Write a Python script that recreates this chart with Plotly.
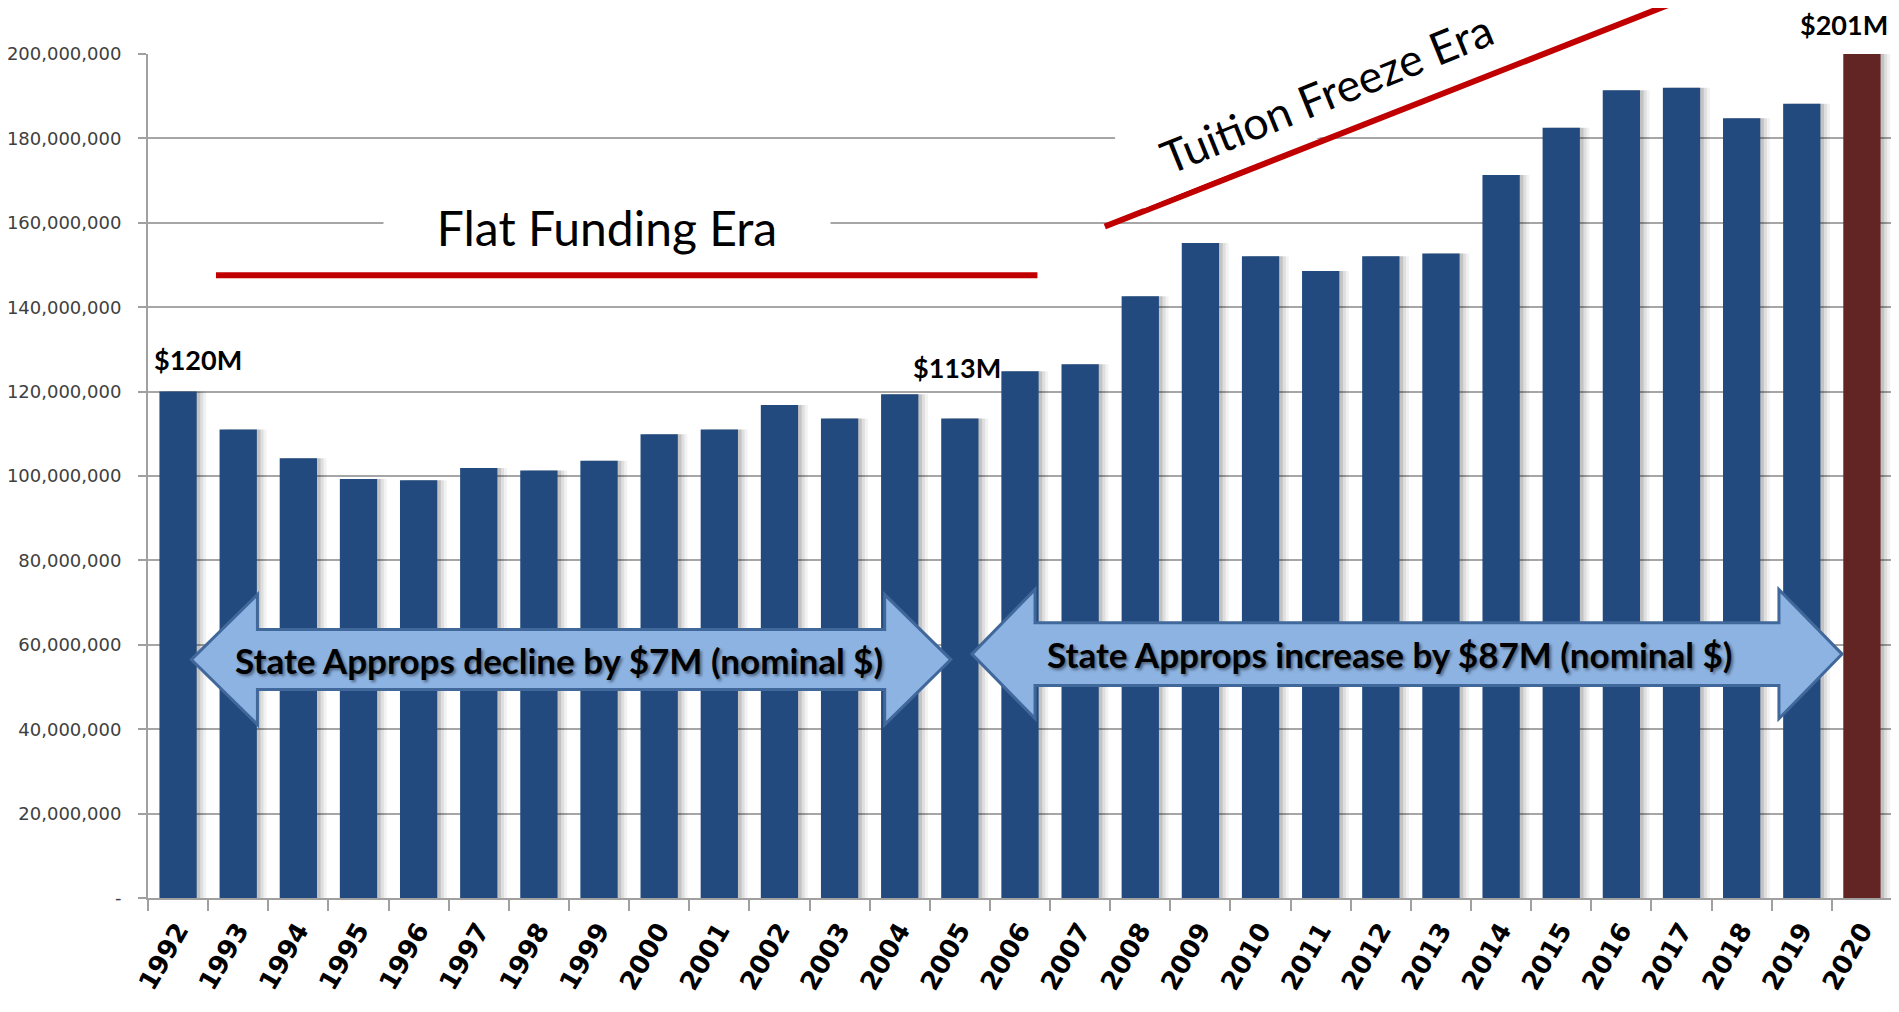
import plotly.graph_objects as go

# state appropriations by fiscal year (dollars)
years = list(range(1992, 2021))
approps = [120.0e6, 111.0e6, 104.2e6, 99.3e6, 99.0e6, 101.9e6, 101.3e6, 103.6e6,
           109.9e6, 111.0e6, 116.8e6, 113.6e6, 119.4e6, 113.6e6, 124.8e6, 126.5e6,
           142.6e6, 155.2e6, 152.1e6, 148.6e6, 152.1e6, 152.7e6, 171.3e6, 182.5e6,
           191.4e6, 192.0e6, 184.8e6, 188.2e6, 201.0e6]
bar_colors = ['#224a7e'] * 28 + ['#632523']

ytick_vals = list(range(0, 200_000_001, 20_000_000))
ytick_text = ['-'] + [f'{v:,}' for v in ytick_vals[1:]]

LABEL_FONT = 'Lato'
BAR_W = 0.62

fig = go.Figure()

# soft shadow to the right of each bar (Excel style)
for off, alpha in [(0.16, 0.05), (0.11, 0.08), (0.06, 0.12)]:
    fig.add_trace(go.Bar(
        x=years, y=approps, width=BAR_W, offset=-BAR_W / 2 + off,
        marker=dict(color=f'rgba(0,0,0,{alpha})', line=dict(width=0)),
        hoverinfo='skip', showlegend=False))

fig.add_trace(go.Bar(
    x=years, y=approps, width=BAR_W, offset=-BAR_W / 2,
    marker=dict(color=bar_colors, line=dict(width=0)),
    showlegend=False))


def double_arrow(x0, x1, yc, shaft, head, hl):
    pts = [(x0, yc), (x0 + hl, yc + head), (x0 + hl, yc + shaft), (x1 - hl, yc + shaft),
           (x1 - hl, yc + head), (x1, yc), (x1 - hl, yc - head), (x1 - hl, yc - shaft),
           (x0 + hl, yc - shaft), (x0 + hl, yc - head)]
    return 'M ' + ' L '.join(f'{x},{y}' for x, y in pts) + ' Z'


arrow_fill = '#8db3e2'
arrow_line = '#41689b'

fig.add_shape(type='path', xref='x', yref='y',
              path=double_arrow(1992.22, 2004.85, 56.5e6, 7.1e6, 15.4e6, 1.1),
              fillcolor=arrow_fill, line=dict(color=arrow_line, width=3))
fig.add_shape(type='path', xref='x', yref='y',
              path=double_arrow(2005.2, 2019.67, 57.8e6, 7.45e6, 15.3e6, 1.05),
              fillcolor=arrow_fill, line=dict(color=arrow_line, width=3))

# era lines
fig.add_shape(type='line', xref='x', yref='y', x0=1992.63, x1=2006.29,
              y0=147.6e6, y1=147.6e6, line=dict(color='#c00000', width=6))
fig.add_shape(type='line', xref='x', yref='paper', x0=2007.41, x1=2016.99,
              y0=0.7956, y1=1.064, line=dict(color='#c00000', width=6))

shadow = '2px 2px 3px rgba(0,0,0,0.45)'
fig.add_annotation(x=1998.34, y=56.5e6, xref='x', yref='y', showarrow=False,
                   text='<b>State Approps decline by $7M (nominal $)</b>',
                   font=dict(family=LABEL_FONT, size=35, color='black', shadow=shadow))
fig.add_annotation(x=2012.14, y=57.8e6, xref='x', yref='y', showarrow=False,
                   text='<b>State Approps increase by $87M (nominal $)</b>',
                   font=dict(family=LABEL_FONT, size=35, color='black', shadow=shadow))

fig.add_annotation(x=1999.13, y=158.8e6, xref='x', yref='y', showarrow=False,
                   text='Flat Funding Era', bgcolor='white', width=438, borderpad=4,
                   font=dict(family=LABEL_FONT, size=48, color='black'))
fig.add_annotation(x=2011.1, y=0.954, xref='x', yref='paper', showarrow=False,
                   xanchor='center', yanchor='middle',
                   text='Tuition Freeze Era', textangle=-22, bgcolor='white',
                   width=403, borderpad=11,
                   font=dict(family=LABEL_FONT, size=45, color='black'))

for x, y, yref, txt in [(1992.33, 127.5e6, 'y', '$120M'),
                        (2004.95, 125.8e6, 'y', '$113M'),
                        (2019.7, 1.035, 'paper', '$201M')]:
    fig.add_annotation(x=x, y=y, xref='x', yref=yref, showarrow=False,
                       xanchor='center', yanchor='middle',
                       text=f'<b>{txt}</b>',
                       font=dict(family=LABEL_FONT, size=27, color='black'))

fig.update_layout(
    width=1884, height=996,
    barmode='overlay',
    plot_bgcolor='white', paper_bgcolor='white',
    margin=dict(l=140, r=0, t=46, b=106),
)

fig.update_xaxes(
    range=[1991.5, 2020.5], tickmode='array', tickvals=years,
    ticktext=[str(y) for y in years], tickangle=-60, automargin=False,
    tickfont=dict(family='DejaVu Sans', size=26, color='black', weight='bold'),
    showline=True, linecolor='#a0a0a0', linewidth=2, showgrid=False, ticks='',
    ticklabelstandoff=5,
    minor=dict(tickmode='array', tickvals=[y - 0.5 for y in years] + [2020.5],
               ticks='outside', ticklen=11, tickcolor='#a0a0a0', tickwidth=1.5),
)
fig.update_yaxes(
    range=[0, 200e6], tickmode='array', tickvals=ytick_vals, ticktext=ytick_text,
    automargin=False,
    tickfont=dict(family='DejaVu Sans', size=18, color='#404040'),
    showline=True, linecolor='#a0a0a0', linewidth=2,
    showgrid=True, gridcolor='#a6a6a6', gridwidth=2, zeroline=False,
    ticks='outside', ticklen=8, tickcolor='#a0a0a0', tickwidth=1.5,
    ticklabelstandoff=13,
)

fig.write_html('out.html')
